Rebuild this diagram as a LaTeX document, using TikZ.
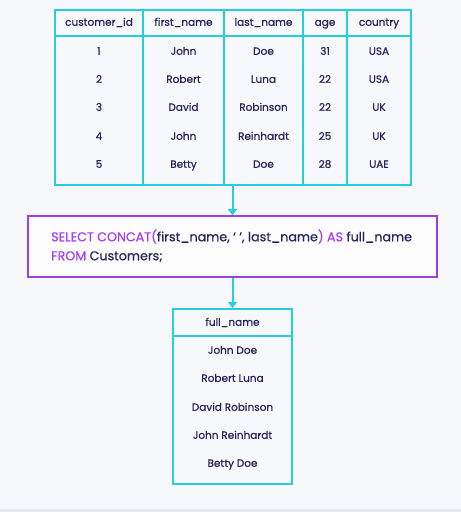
\documentclass[tikz,border=0pt]{standalone}
\usepackage{fontspec}
\setmainfont{Poppins}[FakeBold=0.6]
\usetikzlibrary{arrows.meta}
\definecolor{bg}{HTML}{F7F8FB}
\definecolor{cyanb}{HTML}{25CEDD}
\definecolor{ink}{HTML}{25265E}
\definecolor{kw}{HTML}{A43FF2}
\definecolor{purb}{HTML}{9B3FE0}
\definecolor{strip}{HTML}{E6E8EE}
\tikzset{
  tbl/.style={draw=cyanb, line width=2pt, inner sep=0pt},
  sqlbox/.style={draw=purb, line width=1.6pt, fill=white!60!bg, inner sep=0pt},
  cell/.style={text=ink, font=\fontsize{10.5}{12}\selectfont, inner sep=0pt, anchor=center, text height=7.6pt, text depth=2pt},
  sqltxt/.style={text=ink, font=\fontsize{12.7}{15}\selectfont, inner sep=0pt, anchor=west, text height=9pt, text depth=2.5pt},
  grid/.style={draw=cyanb, line width=2pt},
  flow/.style={draw=cyanb, line width=2pt, -{Triangle[length=6pt,width=9pt]}}
}
\begin{document}
\begin{tikzpicture}[x=1pt,y=-1pt]
\useasboundingbox (0,0) rectangle (461,512);
\fill[bg] (0,0) rectangle (461,512);
\fill[strip] (0,509) rectangle (461,512);

% top table
\node[tbl, minimum width=356pt, minimum height=175.5pt] (t1) at (233,97.25) {};
\draw[grid] (55,36) -- (411,36);
\foreach \x in {143,224,303,347} \draw[grid] (\x,9.5) -- (\x,185);
\foreach \x/\t [count=\i] in {99/customer\_id,183.5/first\_name,263.5/last\_name,325/age,379/country}
  \node[cell] (h\i) at (\x,23) {\t};
\foreach \y/\a/\b/\c/\d/\e [count=\r] in {
  52/1/John/Doe/31/USA,
  80/2/Robert/Luna/22/USA,
  108/3/David/Robinson/22/UK,
  137/4/John/Reinhardt/25/UK,
  165/5/Betty/Doe/28/UAE}{
  \node[cell] (r\r c1) at (99,\y) {\a};
  \node[cell] (r\r c2) at (183.5,\y) {\b};
  \node[cell] (r\r c3) at (263.5,\y) {\c};
  \node[cell] (r\r c4) at (325,\y) {\d};
  \node[cell] (r\r c5) at (379,\y) {\e};
}

% SQL box
\node[sqlbox, minimum width=409pt, minimum height=61pt] (sql) at (232.5,246.5) {};
\node[sqltxt] (q1) at (51,238) {\textcolor{kw}{SELECT CONCAT(}first\_name, ‘ ’, last\_name\textcolor{kw}{) AS} full\_name};
\node[sqltxt] (q2) at (51,257) {\textcolor{kw}{FROM} Customers;};

% result table
\node[tbl, minimum width=119pt, minimum height=175pt] (t2) at (232.5,396.5) {};
\draw[grid] (173,336) -- (292,336);
\node[cell] (fh) at (232.5,323) {full\_name};
\foreach \y/\t [count=\i] in {351/John Doe,379/Robert Luna,408/David Robinson,436/John Reinhardt,464/Betty Doe}
  \node[cell] (f\i) at (232.5,\y) {\t};

% connectors
\draw[flow] (t1.south -| sql.north) -- (sql.north);
\draw[flow] (sql.south) -- (t2.north);
\end{tikzpicture}
\end{document}
